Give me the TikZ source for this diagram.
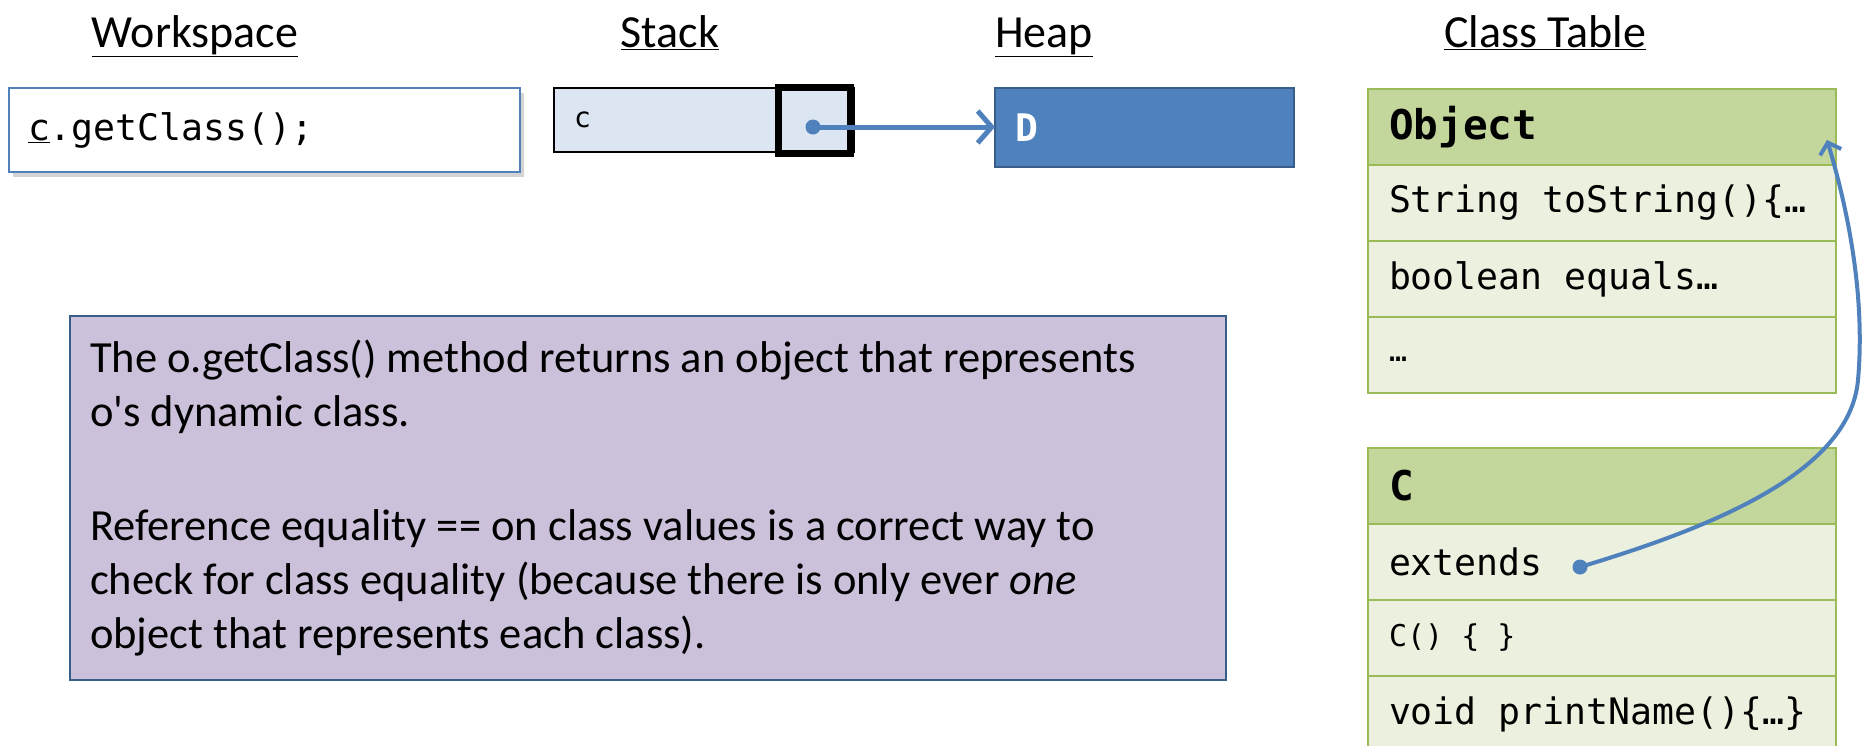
\documentclass[tikz,border=0pt]{standalone}
\usepackage{fontspec}
\setmainfont{Carlito}
\newfontfamily\mono{DejaVu Sans Mono}
\usepackage{tikz}
\usetikzlibrary{arrows.meta,positioning,shadows}

\definecolor{ptrblue}{HTML}{4F81BD}
\definecolor{darkblue}{HTML}{385D8A}
\definecolor{stackfill}{HTML}{DCE6F2}
\definecolor{notefill}{HTML}{CCC1DA}
\definecolor{tblline}{HTML}{9BBB59}
\definecolor{tblhead}{HTML}{C3D69B}
\definecolor{tblrow}{HTML}{EBF1DE}

\tikzset{
  heading/.style={font=\fontsize{46}{55}\selectfont, anchor=base},
  cell/.style={rectangle, outer sep=0pt, anchor=north west, align=flush left},
  trow/.style={cell, draw=tblline, fill=tblrow, line width=2.5pt, text width=426pt,
    inner xsep=21pt, minimum height=76pt, font=\mono\fontsize{36.5}{40}\selectfont},
  thead/.style={trow, fill=tblhead, font=\mono\bfseries\fontsize{41}{45}\selectfont},
  ptr/.style={draw=ptrblue, line width=5pt, -{Straight Barb[length=14pt,width=32pt]}},
}

\begin{document}
\begin{tikzpicture}[x=1pt, y=-1pt]
        \useasboundingbox (0,0) rectangle (1864,745);

        \node[heading] (wslabel)   at (195,47)  {\underline{Workspace}};
        \node[heading] (stklabel)  at (670,47)  {\underline{Stack}};
        \node[heading] (heaplabel) at (1044,47) {\underline{Heap}};
        \node[heading] (tbllabel)  at (1545,47) {\underline{Class Table}};

        \node[cell, draw=ptrblue, fill=white, line width=2pt, text width=473pt, inner xsep=19pt,
          minimum height=84pt, font=\mono\fontsize{36.5}{40}\selectfont,
          drop shadow={opacity=0.35, shadow xshift=4pt, shadow yshift=-5pt}] (ws) at (9,88) {\underline{c}.getClass();};

        \node[cell, draw=black, line width=2pt, fill=stackfill, text width=260pt, inner xsep=20pt,
          minimum height=64pt, font=\mono\fontsize{28}{32}\selectfont] (stk) at (554,88) {c};
        \node[draw=black, line width=7pt, fill=stackfill, minimum width=72pt, minimum height=66pt,
          inner sep=0pt] (slot) at (814,120.5) {};

        \node[cell, draw=darkblue, line width=2pt, fill=ptrblue, text=white, text width=259pt, inner xsep=20pt,
          minimum height=79pt, font=\mono\bfseries\fontsize{38}{42}\selectfont] (heap) at (995,88) {D};

        \coordinate (ref) at (813,127);
        \draw[ptr] (ref) -- (heap.west |- ref);
        \fill[ptrblue] (ref) circle (7.5pt);

        \node[cell, draw=darkblue, line width=2pt, fill=notefill, text width=1116pt, inner xsep=20pt,
          minimum height=364pt, font=\fontsize{44.5}{54}\selectfont] (note) at (70,316)
          {The o.getClass() method returns an object that represents\\
           o\textquotesingle s dynamic class.\\[60pt]
           Reference equality == on class values is a correct way to\\
           check for class equality (because there is only ever \emph{one}\\
           object that represents each class).};

        \node[thead] (obj) at (1368,89) {Object};
        \node[trow, below=0pt of obj] (obj1) {String toString()\{…};
        \node[trow, below=0pt of obj1] (obj2) {boolean equals…};
        \node[trow, below=0pt of obj2, font=\mono\fontsize{30}{34}\selectfont] (obj3) {\strut…};

        \node[thead] (cls) at (1368,448) {C};
        \node[trow, below=0pt of cls] (cls1) {extends};
        \node[trow, below=0pt of cls1, font=\mono\fontsize{30}{34}\selectfont] (cls2) {C() \{ \}};
        \node[trow, below=0pt of cls2] (cls3) {void printName()\{…\}};

        \coordinate (ext) at (1580,567);
        \coordinate (objtip) at (1827,140);
        \draw[ptr, line width=4pt, -{Straight Barb[length=10pt,width=22pt]}] (ext)
          .. controls (1720,525) and (1850,470) .. (1858,380)
          .. controls (1866,290) and (1845,200) .. (objtip);
        \fill[ptrblue] (ext) circle (7.5pt);
      \end{tikzpicture}
\end{document}
